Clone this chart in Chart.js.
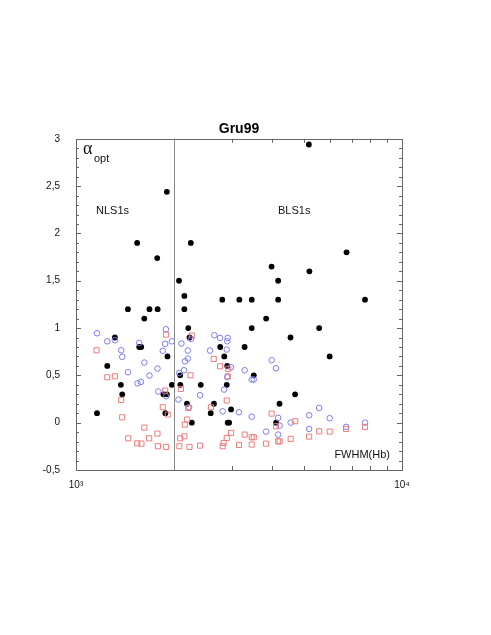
<!DOCTYPE html>
<html>
<head>
<meta charset="utf-8">
<title>Gru99</title>
<script src="https://cdn.jsdelivr.net/npm/chart.js@4.4.1/dist/chart.umd.min.js"></script>
<style>
  html, body { margin: 0; padding: 0; background: #fff; }
  #wrap { width: 491px; height: 635px; }
</style>
</head>
<body>
<div id="wrap"><canvas id="gruChart" width="491" height="635"></canvas></div>
<script>
// filled black dots
const dotFwhm = [1900, 1540, 1775, 2250, 2070, 2150, 5180, 6760, 3980, 5200, 4170, 2150, 1443, 1680, 1780,
    1620, 2810, 3170, 3460, 4170, 7700, 3830, 2210, 3460, 5570, 2230, 1316, 4550, 1563, 1585, 2770, 3290,
    1908, 2850, 6000, 1247, 2910, 2087, 3510, 1373, 1968, 2090, 2414, 2900, 1386, 1854, 1900, 4700, 2190,
    2650, 4210, 1160, 1880, 2590, 2990, 2266, 2920, 2950, 4110];
const dotAlpha = [2.44, 1.90, 1.74, 1.90, 1.50, 1.34, 2.94, 1.80, 1.65, 1.60, 1.50, 1.20, 1.20, 1.20, 1.20,
    1.10, 1.30, 1.30, 1.30, 1.30, 1.30, 1.10, 1.00, 1.00, 1.00, 0.90, 0.90, 0.90, 0.80, 0.80, 0.80, 0.80,
    0.70, 0.70, 0.70, 0.60, 0.60, 0.50, 0.50, 0.40, 0.40, 0.40, 0.40, 0.40, 0.30, 0.30, 0.30, 0.30, 0.20,
    0.20, 0.20, 0.10, 0.10, 0.10, 0.14, 0.00, 0.00, 0.00, 0.00];

// open blue circles
const circleFwhm = [1160, 1247, 1316, 1376, 1386, 1443, 1563, 1620, 1680, 1544, 1581, 1778, 1788, 1846,
    1877, 1887, 1890, 1968, 2062, 2105, 2075, 2145, 2160, 2203, 2203, 2254, 2223, 2402, 2577, 2657, 2766,
    2845, 2900, 2910, 2920, 2910, 2990, 2819, 3162, 3292, 3459, 3510, 3982, 4105, 3459, 3829, 4170, 4213,
    4170, 4555, 5190, 5190, 5570, 6000, 6738, 7700];
const circleAlpha = [0.945, 0.86, 0.871, 0.765, 0.696, 0.533, 0.843, 0.635, 0.498, 0.416, 0.431, 0.572,
    0.329, 0.759, 0.833, 0.987, 0.279, 0.86, 0.244, 0.836, 0.526, 0.554, 0.649, 0.678, 0.762, 0.886, 0.163,
    0.29, 0.762, 0.924, 0.896, 0.35, 0.773, 0.86, 0.896, 0.48, 0.586, 0.12, 0.11, 0.554, 0.456, 0.456,
    0.66, 0.575, 0.064, -0.094, 0.051, -0.031, -0.126, 0.001, 0.078, -0.066, 0.156, 0.047, -0.044, 0.001];

// open red squares
const squareFwhm = [1156, 1247, 1316, 1376, 1386, 1446, 1541, 1588, 1620, 1676, 1778, 1784, 1890, 1846,
    1890, 1877, 1912, 2075, 2087, 2098, 2150, 2157, 2193, 2210, 2229, 2245, 2266, 2402, 2594, 2646, 2766,
    2819, 2837, 2900, 2900, 2920, 2931, 2990, 3162, 3292, 3459, 3510, 3459, 3829, 3982, 4105, 4170, 4213,
    4555, 4704, 5190, 5570, 6000, 6738, 7700];
const squareAlpha = [0.765, 0.48, 0.49, 0.241, 0.057, -0.165, -0.218, -0.221, -0.052, -0.165, -0.115,
    -0.249, -0.256, 0.163, 0.931, 0.339, 0.086, -0.249, -0.165, 0.357, -0.144, -0.02, 0.033, 0.156, -0.256,
    0.501, 0.921, -0.242, 0.163, 0.674, 0.596, -0.249, -0.214, -0.161, 0.234, 0.49, 0.569, -0.108, -0.235,
    -0.126, -0.154, -0.154, -0.231, -0.221, 0.096, -0.038, -0.197, -0.197, -0.171, 0.015, -0.147, -0.091,
    -0.094, -0.066, -0.044];

const yTicks = [-0.5, 0, 0.5, 1, 1.5, 2, 2.5, 3];
const xTicks = [1000, 10000];
const xTickLabels = ['10\u00B3', '10\u2074'];
const divideFwhm = 2000;

function toPoints(xs, ys) {
    return xs.map((x, i) => ({ x: x, y: ys[i] }));
}

// frame, inward ticks, divider line and the free text labels
const decorPlugin = {
    id: 'decor',
    afterDatasetsDraw(chart) {
        const ctx = chart.ctx;
        const a = chart.chartArea;
        const xs = chart.scales.x;
        const ys = chart.scales.y;
        ctx.save();
        ctx.strokeStyle = '#666';
        ctx.lineWidth = 1;
        ctx.beginPath();
        // y ticks every 0.1, longer on the 0.5 steps
        for (let i = -5; i <= 30; i++) {
            const py = Math.round(ys.getPixelForValue(i / 10)) + 0.5;
            const len = (i % 5 === 0) ? 5 : 3;
            ctx.moveTo(a.left, py); ctx.lineTo(a.left + len, py);
            ctx.moveTo(a.right, py); ctx.lineTo(a.right - len, py);
        }
        // x minor ticks 2000..9000
        for (let v = 2000; v <= 9000; v += 1000) {
            const px = Math.round(xs.getPixelForValue(v)) + 0.5;
            ctx.moveTo(px, a.bottom); ctx.lineTo(px, a.bottom - 4);
            ctx.moveTo(px, a.top); ctx.lineTo(px, a.top + 4);
        }
        ctx.stroke();
        ctx.strokeRect(Math.round(a.left) + 0.5, Math.round(a.top) + 0.5,
            Math.round(a.right - a.left), Math.round(a.bottom - a.top));

        // divider NLS1 / BLS1
        const dx = Math.round(xs.getPixelForValue(divideFwhm)) + 0.5;
        ctx.strokeStyle = '#888';
        ctx.beginPath();
        ctx.moveTo(dx, a.top); ctx.lineTo(dx, a.bottom);
        ctx.stroke();

        ctx.fillStyle = '#111';
        ctx.textBaseline = 'middle';
        ctx.textAlign = 'left';
        ctx.font = '18px "Liberation Serif"';
        ctx.fillText('\u03B1', 83, 149);
        ctx.font = '11px "Liberation Sans"';
        ctx.fillText('opt', 94, 159);
        ctx.fillText('NLS1s', 96, 211);
        ctx.fillText('BLS1s', 278, 211);
        ctx.textAlign = 'right';
        ctx.fillText('FWHM(Hb)', 390, 455);
        ctx.restore();
    }
};

const ctx = document.getElementById('gruChart').getContext('2d');
const chart = new Chart(ctx, {
    type: 'scatter',
    data: {
        datasets: [
            {
                label: 'squares',
                data: toPoints(squareFwhm, squareAlpha),
                pointStyle: 'rect',
                pointRadius: 3.6,
                backgroundColor: 'rgba(0,0,0,0)',
                borderColor: '#ee7b7b',
                borderWidth: 1
            },
            {
                label: 'circles',
                data: toPoints(circleFwhm, circleAlpha),
                pointStyle: 'circle',
                pointRadius: 2.8,
                backgroundColor: 'rgba(0,0,0,0)',
                borderColor: '#7c7cf2',
                borderWidth: 1
            },
            {
                label: 'dots',
                data: toPoints(dotFwhm, dotAlpha),
                pointStyle: 'circle',
                pointRadius: 2.9,
                backgroundColor: '#000',
                borderWidth: 0
            }
        ]
    },
    options: {
        responsive: false,
        animation: false,
        devicePixelRatio: 1,
        layout: { padding: { left: 0, right: 89, top: 0, bottom: 0 } },
        plugins: {
            legend: { display: false },
            tooltip: { enabled: false },
            title: {
                display: true,
                text: 'Gru99',
                fullSize: false,
                color: '#000',
                font: { family: 'Liberation Sans', size: 14, weight: 'bold' },
                padding: { top: 121, bottom: 1 }
            }
        },
        scales: {
            x: {
                type: 'logarithmic',
                min: 1000,
                max: 10000,
                grid: { display: false },
                border: { display: false },
                afterBuildTicks: scale => { scale.ticks = xTicks.map(v => ({ value: v })); },
                afterFit: scale => { scale.height = 165; },
                ticks: {
                    padding: 1,
                    color: '#111',
                    font: { family: 'Liberation Sans', size: 10 },
                    maxRotation: 0,
                    autoSkip: false,
                    callback: v => xTickLabels[xTicks.indexOf(v)]
                }
            },
            y: {
                min: -0.5,
                max: 3,
                grid: { display: false },
                border: { display: false },
                afterBuildTicks: scale => { scale.ticks = yTicks.map(v => ({ value: v })); },
                afterFit: scale => { scale.width = 76; },
                ticks: {
                    padding: 8,
                    color: '#111',
                    font: { family: 'Liberation Sans', size: 10 },
                    callback: v => String(v).replace('.', ',')
                }
            }
        }
    },
    plugins: [decorPlugin]
});
</script>
</body>
</html>
